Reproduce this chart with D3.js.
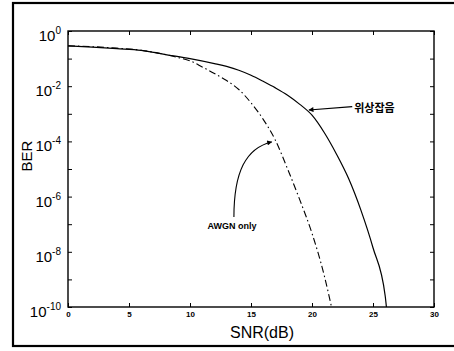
<!DOCTYPE html>
<html>
<head>
<meta charset="utf-8">
<script src="https://cdn.jsdelivr.net/npm/d3@7"></script>
<style>
  html, body { margin: 0; padding: 0; background: #fff; }
  svg { display: block; }
</style>
</head>
<body>
<svg id="chart" width="454" height="351"></svg>
<script>
// ---- data ----
const snrPhase = [0, 2, 4, 6, 8, 10, 12, 13, 14, 15, 16, 17, 18, 19, 20, 21, 22, 23, 24, 25, 26, 26.1];
const berPhase = [2.9e-1, 2.6e-1, 2.3e-1, 2.0e-1, 1.4e-1, 1.0e-1, 6.6e-2, 5.2e-2, 3.8e-2, 2.5e-2, 1.5e-2, 8.7e-3, 4.7e-3, 2.2e-3, 8.9e-4, 2.1e-4, 3.5e-5, 4.5e-6, 3.3e-7, 1.4e-8, 2.5e-10, 1e-10];
const snrAwgn = [0, 2, 4, 6, 8, 9, 10, 11, 12, 13, 14, 15, 16, 17, 18, 19, 20, 21, 21.6];
const berAwgn = [2.9e-1, 2.7e-1, 2.4e-1, 2.0e-1, 1.4e-1, 1.1e-1, 8.3e-2, 5.0e-2, 2.9e-2, 1.6e-2, 7.6e-3, 2.5e-3, 6.3e-4, 1.1e-4, 1.0e-5, 7.6e-7, 4.7e-8, 1.4e-9, 1e-10];
const xTicks = [0, 5, 10, 15, 20, 25, 30];
const yTicks = [1e0, 1e-1, 1e-2, 1e-3, 1e-4, 1e-5, 1e-6, 1e-7, 1e-8, 1e-9, 1e-10];
const yLabelTicks = [1e0, 1e-2, 1e-4, 1e-6, 1e-8, 1e-10];
const yLabelExp = ["0", "-2", "-4", "-6", "-8", "-10"];
const xLabel = "SNR(dB)";
const yLabel = "BER";
const phaseLabel = "위상잡음";
const awgnLabel = "AWGN only";

// ---- layout ----
const svg = d3.select("#chart");
const L = 68, T = 31, R = 434, B = 307;
const x = d3.scaleLinear().domain([0, 30]).range([L, R]);
const y = d3.scaleLog().domain([1e-10, 1]).range([B, T]);

// outer figure border
svg.append("rect").attr("x", 13).attr("y", 3).attr("width", 460).attr("height", 343)
  .attr("fill", "none").attr("stroke", "#000").attr("stroke-width", 2.2);

// arrow marker
const defs = svg.append("defs");
defs.append("marker").attr("id", "ah").attr("viewBox", "0 0 10 10")
  .attr("refX", 9).attr("refY", 5).attr("markerWidth", 7).attr("markerHeight", 5)
  .attr("orient", "auto").attr("markerUnits", "userSpaceOnUse")
  .append("path").attr("d", "M0,0 L10,5 L0,10 z").attr("fill", "#000");

// ticks (inward) on all four sides
const tickStyle = g => {
  g.select(".domain").remove();
  g.selectAll("line").attr("stroke", "#000").attr("stroke-width", 1);
  g.selectAll("text").remove();
};
svg.append("g").attr("transform", `translate(0,${B})`)
  .call(d3.axisBottom(x).tickValues(xTicks).tickSize(-4)).call(tickStyle);
svg.append("g").attr("transform", `translate(0,${T})`)
  .call(d3.axisTop(x).tickValues(xTicks).tickSize(-4)).call(tickStyle);
svg.append("g").attr("transform", `translate(${L},0)`)
  .call(d3.axisLeft(y).tickValues(yTicks).tickSize(-4)).call(tickStyle);
svg.append("g").attr("transform", `translate(${R},0)`)
  .call(d3.axisRight(y).tickValues(yTicks).tickSize(-4)).call(tickStyle);

// x tick labels
const xAx = svg.append("g").attr("transform", `translate(0,${B})`)
  .call(d3.axisBottom(x).tickValues(xTicks).tickSize(0).tickPadding(4).tickFormat(d3.format("d")));
xAx.select(".domain").remove();
xAx.selectAll("text").attr("font-family", "Liberation Sans, Arial, sans-serif")
  .attr("font-size", 8).attr("font-weight", "bold").attr("fill", "#000");

// y tick labels with superscripts
const yAx = svg.append("g").attr("transform", `translate(${L - 7},0)`)
  .call(d3.axisLeft(y).tickValues(yLabelTicks).tickSize(0).tickFormat(() => ""));
yAx.select(".domain").remove();
yAx.selectAll(".tick text").each(function(d, i) {
  const t = d3.select(this).text(null)
    .attr("font-family", "Liberation Sans, Arial, sans-serif").attr("fill", "#000")
    .attr("dy", "0.95em").attr("x", 0).attr("text-anchor", "end");
  t.append("tspan").attr("font-size", 15).text("10");
  t.append("tspan").attr("font-size", 10).attr("dy", -7).text(yLabelExp[i]);
});

// plot frame
svg.append("rect").attr("x", L).attr("y", T).attr("width", R - L).attr("height", B - T)
  .attr("fill", "none").attr("stroke", "#000").attr("stroke-width", 1.4);

// curves
const line = d3.line().x(d => x(d[0])).y(d => y(d[1])).curve(d3.curveMonotoneX);
svg.append("path").datum(d3.zip(snrPhase, berPhase)).attr("d", line)
  .attr("fill", "none").attr("stroke", "#000").attr("stroke-width", 1.2);
svg.append("path").datum(d3.zip(snrAwgn, berAwgn)).attr("d", line)
  .attr("fill", "none").attr("stroke", "#000").attr("stroke-width", 1.1)
  .attr("stroke-dasharray", "7,3,1.5,3");

// axis titles
svg.append("text").attr("x", x(15.9)).attr("y", 338).attr("text-anchor", "middle")
  .attr("font-family", "Liberation Sans, Arial, sans-serif").attr("font-size", 16)
  .attr("fill", "#000").text(xLabel);
svg.append("text").attr("transform", "translate(32,156) rotate(-90)").attr("text-anchor", "middle")
  .attr("font-family", "Liberation Sans, Arial, sans-serif").attr("font-size", 15)
  .attr("fill", "#000").text(yLabel);

// annotations
const pTip = [x(19.75), y(Math.pow(10, -2.86))];
const pTail = [x(23.3), y(Math.pow(10, -2.74))];
svg.append("line").attr("x1", pTail[0]).attr("y1", pTail[1]).attr("x2", pTip[0]).attr("y2", pTip[1])
  .attr("stroke", "#000").attr("stroke-width", 1.1).attr("marker-end", "url(#ah)");
svg.append("text").attr("x", pTail[0] + 2).attr("y", pTail[1] + 5)
  .attr("font-family", "Noto Sans CJK KR, sans-serif").attr("font-size", 11).attr("font-weight", "bold")
  .attr("fill", "#000").text(phaseLabel);

const aTip = [x(16.7), y(Math.pow(10, -4.02))];
const aTail = [x(13.6), y(Math.pow(10, -6.74))];
svg.append("path")
  .attr("d", `M${aTail[0]},${aTail[1]} C${aTail[0]},${aTail[1] - 45} ${aTail[0] + 12},${aTip[1] + 6} ${aTip[0]},${aTip[1]}`)
  .attr("fill", "none").attr("stroke", "#000").attr("stroke-width", 1.1).attr("marker-end", "url(#ah)");
svg.append("text").attr("x", x(13.45)).attr("y", aTail[1] + 12).attr("text-anchor", "middle")
  .attr("font-family", "Liberation Sans, Arial, sans-serif").attr("font-size", 9).attr("font-weight", "bold")
  .attr("fill", "#000").text(awgnLabel);
</script>
</body>
</html>
